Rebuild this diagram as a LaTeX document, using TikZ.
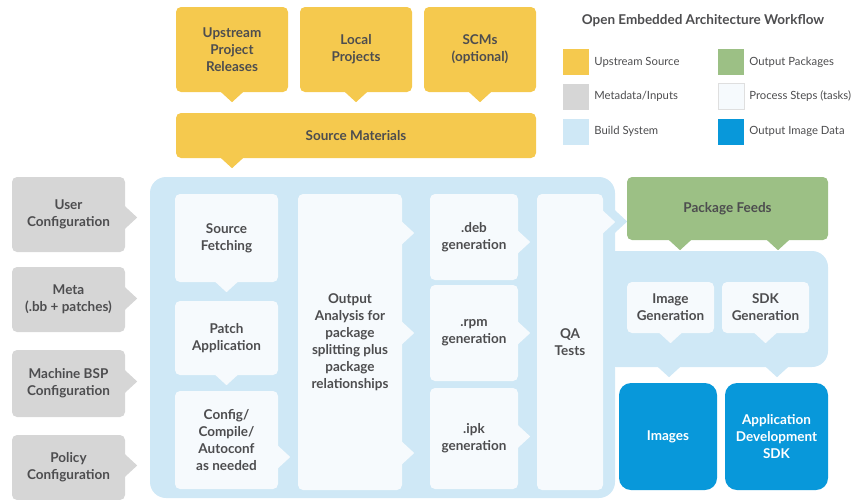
\documentclass[tikz,border=0pt]{standalone}
\usepackage{fontspec}
\usepackage{tikz}
\usetikzlibrary{positioning}
\setmainfont{Lato}

\definecolor{yel}{HTML}{F5C94E}
\definecolor{gry}{HTML}{D6D6D6}
\definecolor{lbl}{HTML}{CFE8F6}
\definecolor{prc}{HTML}{F6FAFD}
\definecolor{grn}{HTML}{9CC085}
\definecolor{dbl}{HTML}{0898DA}
\definecolor{txt}{HTML}{4D4D4F}

\newcommand{\tailS}[3]{\fill[#1,shift={(#2)}] ({#3-12},-1) -- (#3,10) -- ({#3+12},-1) -- cycle;}
\newcommand{\tailE}[3]{\fill[#1,shift={(#2)}] (-1,{#3-12}) -- (12,#3) -- (-1,{#3+12}) -- cycle;}

\begin{document}
\begin{tikzpicture}
  [x=1pt,y=-1pt,every node/.style={rounded corners=5pt,inner sep=0pt,align=center,text=txt,
     font=\bfseries\fontsize{13.5}{17}\selectfont},
   src/.style={fill=yel}, meta/.style={fill=gry}, proc/.style={fill=prc}, pkg/.style={fill=grn},
   img/.style={fill=dbl,text=white,rounded corners=12pt}, panel/.style={fill=lbl,rounded corners=16pt},
   key/.style={minimum size=26pt,rounded corners=0pt}, keytxt/.style={right=5pt of #1,anchor=west,fill=none,
     font=\fontsize{11.3}{13}\selectfont}]
  \useasboundingbox (0,0) rectangle (853,499);

  \node[src,minimum width=112pt,minimum height=85pt] (ups) at (232,49.5) {Upstream\\Project\\Releases};
  \node[src,minimum width=112pt,minimum height=85pt] (loc) at (356,49.5) {Local\\Projects};
  \node[src,minimum width=112pt,minimum height=85pt] (scm) at (480,49.5) {SCMs\\(optional)};
  \node[src,minimum width=360pt,minimum height=45pt] (srcm) at (356,135.5) {Source Materials};
  \tailS{yel}{ups.south}{0}
  \tailS{yel}{loc.south}{0}
  \tailS{yel}{scm.south}{0}
  \tailS{yel}{srcm.south}{-124}

  \node[panel,minimum width=465pt,minimum height=321pt] (bs) at (382.5,337.5) {};
  \node[panel,minimum width=228pt,minimum height=116pt] (rp) at (714,309) {};
  \tailE{lbl}{bs.east}{-116}
  \tailS{lbl}{rp.south}{-45}
  \tailS{lbl}{rp.south}{63}

  \node[meta,minimum width=113pt,minimum height=75pt] (usr) at (68.5,214.5) {User\\Configuration};
  \node[meta,minimum width=113pt,minimum height=65pt] (mta) at (68.5,299.5) {Meta\\(.bb + patches)};
  \node[meta,minimum width=113pt,minimum height=67pt] (bsp) at (68.5,383.5) {Machine BSP\\Configuration};
  \node[meta,minimum width=113pt,minimum height=65pt] (pol) at (68.5,467.5) {Policy\\Configuration};
  \tailE{gry}{usr.east}{3}
  \tailE{gry}{mta.east}{-1}
  \tailE{gry}{bsp.east}{-2}
  \tailE{gry}{pol.east}{-2}

  \node[proc,minimum width=103pt,minimum height=88pt] (fetch) at (226.5,238) {Source\\Fetching};
  \node[proc,minimum width=103pt,minimum height=74pt] (patch) at (226.5,338) {Patch\\Application};
  \node[proc,minimum width=103pt,minimum height=98pt] (conf) at (226.5,440) {Config/\\Compile/\\Autoconf\\as needed};
  \node[proc,minimum width=104pt,minimum height=296pt] (oa) at (350,342)
    {Output\\Analysis for\\package\\splitting plus\\package\\relationships};
  \node[proc,minimum width=88pt,minimum height=86pt] (deb) at (474,237) {.deb\\generation};
  \node[proc,minimum width=88pt,minimum height=96pt] (rpm) at (474,333) {.rpm\\generation};
  \node[proc,minimum width=88pt,minimum height=101pt] (ipk) at (474,438.5) {.ipk\\generation};
  \node[proc,minimum width=66pt,minimum height=296pt] (qa) at (570,342) {QA\\Tests};
  \tailS{prc}{fetch.south}{0}
  \tailS{prc}{patch.south}{0}
  \tailE{prc}{conf.east}{17}
  \tailE{prc}{oa.east}{-109}
  \tailE{prc}{oa.east}{-9}
  \tailE{prc}{oa.east}{111}
  \tailE{prc}{deb.east}{5}
  \tailE{prc}{rpm.east}{0}
  \tailE{prc}{ipk.east}{-2}
  \tailE{prc}{qa.east}{-120}

  \node[pkg,minimum width=201pt,minimum height=63pt] (feeds) at (727.5,208.5) {Package Feeds};
  \tailS{grn}{feeds.south}{-47.5}
  \tailS{grn}{feeds.south}{50.5}
  \node[proc,minimum width=87pt,minimum height=51pt] (imgen) at (670.5,307.5) {Image\\Generation};
  \node[proc,minimum width=87pt,minimum height=51pt] (sdkgen) at (765.5,307.5) {SDK\\Generation};
  \tailS{prc}{imgen.south}{0}
  \tailS{prc}{sdkgen.south}{0}
  \node[img,minimum width=98pt,minimum height=107pt] (imgs) at (668,436.5) {Images};
  \node[img,minimum width=103pt,minimum height=107pt] (sdk) at (776.5,436.5) {Application\\Development\\SDK};

  \node[font=\bfseries\fontsize{13.5}{16}\selectfont] (ttl) at (703,21) {Open Embedded Architecture Workflow};
  \node[key,src] (k1) at (576,62) {};
  \node[key,meta] (k2) at (576,96.5) {};
  \node[key,fill=lbl] (k3) at (576,131.5) {};
  \node[key,pkg] (k4) at (731,62) {};
  \node[key,proc,draw=gray!25] (k5) at (731,96.5) {};
  \node[key,fill=dbl] (k6) at (731,131.5) {};
  \node[keytxt=k1] {Upstream Source};
  \node[keytxt=k2] {Metadata/Inputs};
  \node[keytxt=k3] {Build System};
  \node[keytxt=k4] {Output Packages};
  \node[keytxt=k5] {Process Steps (tasks)};
  \node[keytxt=k6] {Output Image Data};
\end{tikzpicture}
\end{document}
